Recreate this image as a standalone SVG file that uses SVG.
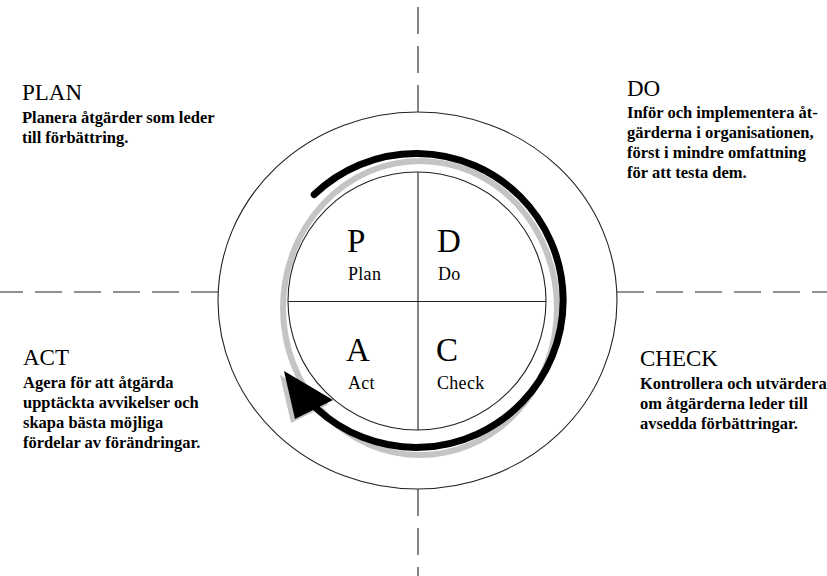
<svg xmlns="http://www.w3.org/2000/svg" width="827" height="576" viewBox="0 0 827 576">
<style>
  .thin { fill: none; stroke: #222; stroke-width: 1.1; }
  .dash { fill: none; stroke: #222; stroke-width: 1.1; stroke-dasharray: 27 12; }
  .title { font-family: "Liberation Serif", "Times New Roman", serif; font-size: 23px; fill: #000; }
  .body { font-family: "Liberation Serif", "Times New Roman", serif; font-size: 16.5px; font-weight: bold; fill: #000; }
  .big { font-family: "Liberation Serif", "Times New Roman", serif; font-size: 33px; fill: #000; }
  .small { font-family: "Liberation Serif", "Times New Roman", serif; font-size: 18px; fill: #000; letter-spacing: 0.3px; }
</style>
<rect width="827" height="576" fill="#fff"/>
<g id="axes">
  <line class="dash" x1="418" y1="112" x2="418" y2="0"/>
  <line class="dash" x1="418" y1="489" x2="418" y2="576"/>
  <line class="dash" x1="218" y1="292" x2="0" y2="292"/>
  <line class="dash" x1="617" y1="292" x2="827" y2="292"/>
</g>
<g id="outer-ring">
  <ellipse class="thin" cx="417.5" cy="300.5" rx="199.5" ry="188.5"/>
</g>
<g id="connectors">
  <ellipse cx="420" cy="308" rx="137" ry="147" fill="none" stroke="#c4c4c4" stroke-width="6"/>
  <polygon points="280,375 291,423 329,404" fill="#c4c4c4"/>
</g>
<g id="pdca-circle">
  <circle cx="417" cy="301" r="129" fill="#fff" stroke="#222" stroke-width="1.1"/>
  <line class="thin" x1="418" y1="172" x2="418" y2="430"/>
  <line class="thin" x1="288" y1="301.5" x2="546" y2="301.5"/>
</g>
<g id="cycle-arrow">
  <path d="M 314.2 194.5 A 147 147 0 1 1 316.5 408.5" fill="none" stroke="#000" stroke-width="7" stroke-linecap="round"/>
  <polygon points="284,371 295,419 333,400" fill="#000"/>
</g>
<g id="node-P">
  <text class="big" x="347" y="252">P</text>
  <text class="small" x="348" y="280">Plan</text>
</g>
<g id="node-D">
  <text class="big" x="437" y="252">D</text>
  <text class="small" x="438" y="280">Do</text>
</g>
<g id="node-A">
  <text class="big" x="346" y="361">A</text>
  <text class="small" x="348" y="389">Act</text>
</g>
<g id="node-C">
  <text class="big" x="436" y="361">C</text>
  <text class="small" x="437" y="389">Check</text>
</g>
<g id="plan-text">
  <text class="title" x="22" y="100">PLAN</text>
  <text class="body" x="22" y="123">Planera åtgärder som leder</text>
  <text class="body" x="22" y="143">till förbättring.</text>
</g>
<g id="do-text">
  <text class="title" x="627" y="96">DO</text>
  <text class="body" x="627" y="118">Inför och implementera åt-</text>
  <text class="body" x="627" y="138">gärderna i organisationen,</text>
  <text class="body" x="627" y="158">först i mindre omfattning</text>
  <text class="body" x="627" y="178">för att testa dem.</text>
</g>
<g id="act-text">
  <text class="title" x="23" y="365">ACT</text>
  <text class="body" x="23" y="388">Agera för att åtgärda</text>
  <text class="body" x="23" y="408">upptäckta avvikelser och</text>
  <text class="body" x="23" y="428">skapa bästa möjliga</text>
  <text class="body" x="23" y="448">fördelar av förändringar.</text>
</g>
<g id="check-text">
  <text class="title" x="640" y="366">CHECK</text>
  <text class="body" x="640" y="389">Kontrollera och utvärdera</text>
  <text class="body" x="640" y="409">om åtgärderna leder till</text>
  <text class="body" x="640" y="429">avsedda förbättringar.</text>
</g>
</svg>
